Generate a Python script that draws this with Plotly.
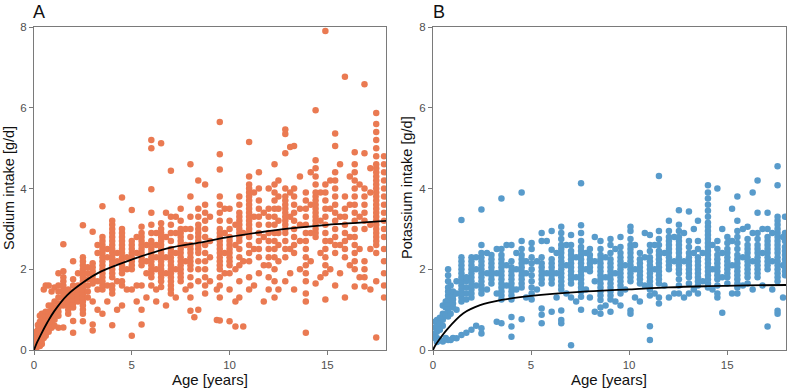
import plotly.graph_objects as go

# ---------------- Panel A: sodium intake (columns of observations by age) ----------------
na_ages = [0.05, 0.12, 0.2, 0.3, 0.4, 0.5, 0.6, 0.75, 0.9, 1.05, 1.25, 1.5, 1.75, 2.0, 2.25, 2.5,
           2.75, 3.0, 3.25, 3.5, 3.75, 4.0, 4.25, 4.5, 4.75, 5.0, 5.25, 5.5, 5.75, 6.0, 6.25, 6.5,
           6.75, 7.0, 7.25, 7.5, 7.75, 8.0, 8.2, 8.4, 8.75, 9.0, 9.35, 9.5, 9.75, 10.0, 10.3, 10.5,
           10.7, 11.0, 11.25, 11.5, 11.75, 12.0, 12.3, 12.5, 12.85, 13.1, 13.3, 13.6, 13.9, 14.15,
           14.4, 14.65, 14.9, 15.15, 15.4, 15.65, 15.9, 16.15, 16.4, 16.65, 16.9, 17.2, 17.5, 17.9]
na_vals = [
    [0.04, 0.08, 0.15, 0.22, 0.3],
    [0.05, 0.12, 0.2, 0.28, 0.35, 0.45],
    [0.1, 0.18, 0.25, 0.35, 0.42, 0.5, 0.62],
    [0.1, 0.2, 0.3, 0.4, 0.5, 0.6, 0.7, 0.85],
    [0.15, 0.25, 0.35, 0.45, 0.55, 0.65, 0.75, 0.9],
    [0.3, 0.4, 0.5, 0.6, 0.7, 0.8, 0.9, 1.5],
    [0.35, 0.45, 0.55, 0.65, 0.75, 0.85, 0.95, 1.6],
    [0.45, 0.55, 0.65, 0.75, 0.85, 0.95, 1.1, 1.6],
    [0.55, 0.7, 0.8, 0.9, 1.0, 1.1, 1.45],
    [0.6, 0.75, 0.85, 0.95, 1.05, 1.2, 1.55],
    [0.55, 0.85, 0.95, 1.05, 1.15, 1.3, 1.45, 1.6, 1.9],
    [0.56, 1.1, 1.2, 1.3, 1.4, 1.5, 1.6, 1.7, 1.8, 1.95, 2.62],
    [0.9, 1.0, 1.1, 1.2, 1.3, 1.4, 1.5],
    [0.43, 0.72, 1.05, 1.15, 1.25, 1.35, 1.45, 1.6, 1.75, 2.2],
    [1.2, 1.3, 1.4, 1.5, 1.6, 1.9],
    [0.71, 0.9, 1.0, 1.1, 1.2, 1.3, 1.4, 1.5, 1.6, 1.7, 1.8, 1.9, 2.0, 2.1, 2.2, 2.3, 3.09],
    [1.3, 1.45, 1.6, 1.75, 1.9, 2.05],
    [0.48, 0.63, 1.2, 1.65, 1.75, 1.85, 1.95, 2.05, 2.15, 2.93],
    [1.0, 1.5, 1.7, 2.4, 2.6],
    [0.9, 1.5, 1.6, 1.7, 1.8, 1.9, 2.0, 2.1, 2.2, 2.3, 2.4, 2.5, 2.6, 2.7, 2.8, 3.56],
    [1.2, 1.6, 2.3, 2.5],
    [0.61, 1.4, 1.5, 1.6, 1.8, 1.9, 2.0, 2.1, 2.2, 2.3, 2.4, 2.5, 2.6, 2.7, 2.8, 2.9, 3.0, 3.1, 3.2],
    [1.0, 1.7, 2.2, 2.4],
    [1.1, 1.6, 1.7, 1.9, 2.0, 2.1, 2.2, 2.3, 2.4, 2.5, 2.6, 2.7, 2.8, 2.9, 3.0, 3.78],
    [1.5, 2.0, 2.3],
    [0.35, 1.5, 2.0, 2.1, 2.2, 2.3, 2.4, 2.5, 2.6, 2.7, 3.47],
    [1.2, 1.6, 2.4, 2.8],
    [0.63, 1.0, 1.6, 2.1, 2.2, 2.3, 2.4, 2.5, 2.6, 2.7, 2.8, 2.9, 3.05],
    [1.3, 1.9, 2.2, 2.6],
    [1.6, 1.8, 1.9, 2.0, 2.1, 2.2, 2.3, 2.4, 2.5, 2.6, 2.7, 2.9, 3.1, 3.4, 3.98, 5.0, 5.2],
    [1.2, 1.5, 2.0, 2.3, 2.6, 2.9],
    [1.56, 1.7, 1.8, 1.9, 2.0, 2.1, 2.2, 2.3, 2.4, 2.5, 2.6, 2.7, 2.8, 2.9, 3.0, 3.14, 5.12],
    [1.1, 1.9, 2.3, 2.8, 3.4],
    [1.4, 1.5, 1.6, 1.7, 1.8, 1.9, 2.0, 2.1, 2.2, 2.3, 2.4, 2.5, 2.7, 2.9, 3.1, 3.3, 4.44],
    [1.3, 2.0, 2.4, 2.9, 3.3],
    [1.7, 1.8, 1.9, 2.0, 2.1, 2.2, 2.3, 2.4, 2.5, 2.6, 2.7, 2.8, 2.9, 3.0, 3.2, 3.5],
    [1.5, 2.2, 2.6, 3.0],
    [0.97, 1.3, 1.6, 1.8, 2.0, 2.1, 2.2, 2.3, 2.4, 2.5, 2.6, 2.8, 3.0, 3.3, 3.8, 4.6],
    [0.81],
    [1.0, 1.7, 2.0, 2.2, 2.4, 2.5, 2.6, 2.7, 2.8, 2.9, 3.0, 3.1, 3.3, 3.5, 4.2],
    [1.4, 1.6, 1.8, 2.0, 2.2, 2.4, 2.6, 2.8, 3.0, 3.2, 3.4, 3.6, 4.1],
    [1.7, 2.3, 2.7, 3.3],
    [0.74, 1.5],
    [0.73, 1.3, 1.6, 1.8, 2.0, 2.1, 2.2, 2.3, 2.4, 2.5, 2.6, 2.7, 2.8, 2.9, 3.0, 3.2, 3.4, 3.6, 3.8, 4.47, 4.85, 5.65],
    [1.9, 2.4, 2.9, 3.5],
    [0.71, 1.5, 1.9, 2.1, 2.2, 2.3, 2.4, 2.5, 2.6, 2.7, 2.8, 3.0, 3.2, 3.5],
    [0.58, 1.2, 2.0, 2.6, 3.1],
    [1.3, 1.7, 2.1, 2.3, 2.5, 2.7, 2.8, 2.9, 3.0, 3.1, 3.2, 3.3, 3.4, 3.6, 3.8],
    [0.58, 2.2, 2.9],
    [1.5, 1.8, 2.2, 2.4, 2.6, 2.8, 2.9, 3.0, 3.1, 3.2, 3.3, 3.4, 3.5, 3.6, 3.7, 3.8, 3.9, 4.0, 4.1, 4.3, 5.15],
    [1.6, 2.5, 3.3, 3.9],
    [1.9, 2.3, 2.5, 2.7, 2.9, 3.1, 3.3, 3.5, 3.7, 4.0, 4.4],
    [1.2, 2.1, 2.8, 3.4],
    [1.5, 1.8, 2.1, 2.3, 2.5, 2.7, 2.9, 3.1, 3.3, 3.5, 4.0],
    [1.3, 1.7, 2.0, 2.3, 2.5, 2.7, 2.9, 3.1, 3.3, 3.5, 3.7, 3.9, 4.1, 4.6],
    [1.5, 2.2, 2.6, 2.9, 3.2, 3.5, 3.8, 4.2],
    [1.7, 2.3, 2.5, 2.7, 2.9, 3.0, 3.1, 3.2, 3.3, 3.4, 3.5, 3.6, 3.7, 3.8, 4.0, 4.87, 5.35, 5.46],
    [1.9, 2.5, 3.3, 3.9, 5.03],
    [1.5, 2.4, 2.6, 2.8, 3.0, 3.2, 3.4, 3.6, 3.8, 4.0, 5.05],
    [2.0, 2.7, 3.1, 3.5, 4.3],
    [0.43, 1.2, 1.4, 1.7, 1.9, 2.1, 2.3, 2.5, 2.7, 2.9, 3.1, 3.3, 3.5, 3.7, 3.9],
    [2.2, 2.9, 3.6, 4.4],
    [1.65, 2.8, 2.9, 3.0, 3.1, 3.2, 3.3, 3.4, 3.5, 3.6, 3.7, 3.8, 3.9, 4.1, 4.3, 4.5, 4.7, 5.94],
    [1.8, 2.4, 3.2, 3.9],
    [1.25, 1.9, 2.1, 2.3, 2.5, 2.7, 2.9, 3.1, 3.3, 3.5, 3.7, 3.9, 4.1, 7.9],
    [2.0, 2.7, 3.5, 4.2],
    [1.6, 2.4, 2.6, 2.8, 3.0, 3.2, 3.4, 3.6, 3.8, 4.0, 4.2, 4.4, 5.05, 5.36],
    [1.9, 2.6, 3.3, 4.6],
    [1.3, 2.3, 2.5, 2.7, 2.9, 3.1, 3.3, 3.5, 3.8, 6.77],
    [2.1, 2.8, 3.6, 4.3],
    [1.57, 2.0, 2.2, 2.4, 2.6, 2.8, 3.0, 3.2, 3.4, 3.6, 3.8, 4.0, 4.2, 4.4, 4.6, 4.9],
    [1.8, 2.5, 3.3, 4.1],
    [1.57, 1.8, 2.0, 2.2, 3.0, 3.2, 3.4, 3.6, 3.8, 4.0, 4.87, 6.58],
    [1.5, 2.5, 3.1, 3.9, 4.5],
    [0.31, 1.7, 2.4, 2.6, 2.7, 2.8, 2.9, 3.0, 3.1, 3.2, 3.3, 3.4, 3.5, 3.6, 3.7, 3.8, 3.9, 4.0,
     4.1, 4.2, 4.3, 4.4, 4.5, 4.6, 4.8, 5.0, 5.2, 5.4, 5.6, 5.87],
    [1.3, 1.6, 1.9, 2.2, 2.5, 2.8, 3.0, 3.2, 3.4, 3.6, 3.8, 4.0, 4.2, 4.4, 4.6, 4.8],
]

# fitted curve A
na_fit_age = [0, 0.15, 0.34, 0.68, 1.02, 1.7, 2.56, 3.41, 5.0, 6.82, 8.69, 10.0, 11.5, 13.1, 15.0, 16.5, 18.0]
na_fit_val = [0, 0.18, 0.37, 0.68, 0.95, 1.36, 1.69, 1.94, 2.24, 2.52, 2.68, 2.8, 2.91, 3.01, 3.1, 3.15, 3.2]

# ---------------- Panel B: potassium intake ----------------
k_ages = [0.1, 0.2, 0.35, 0.5, 0.65, 0.77, 0.9, 1.02, 1.2, 1.45, 1.7, 1.96, 2.2, 2.47, 2.75, 2.98,
          3.25, 3.49, 3.75, 4.0, 4.25, 4.52, 4.75, 5.03, 5.3, 5.54, 5.8, 6.05, 6.3, 6.54, 6.8, 7.04,
          7.3, 7.55, 7.8, 8.0, 8.25, 8.54, 8.8, 9.05, 9.3, 9.56, 9.8, 10.07, 10.3, 10.55, 10.8,
          11.06, 11.3, 11.52, 11.8, 12.03, 12.3, 12.54, 12.8, 13.05, 13.3, 13.51, 13.75, 14.02,
          14.25, 14.5, 14.75, 15.01, 15.25, 15.52, 15.8, 16.04, 16.3, 16.55, 16.8, 17.06, 17.3,
          17.57, 17.85, 17.95]
k_vals = [
    [0.29, 0.4, 0.55, 0.7],
    [0.2, 0.3, 0.45, 0.6, 0.74],
    [0.25, 0.5, 0.65, 0.8],
    [0.21, 0.6, 0.75, 0.9, 1.1],
    [0.3, 0.85, 1.05, 1.2],
    [0.25, 0.83, 0.95, 1.05, 1.15, 1.25, 1.35, 1.45, 1.55, 1.7, 1.85, 2.0],
    [0.25, 0.9, 1.3, 1.6],
    [0.3, 1.05, 1.15, 1.25, 1.35, 1.45],
    [0.29, 1.0, 1.4, 1.7],
    [0.37, 1.2, 1.3, 1.4, 1.5, 1.6, 1.7, 1.8, 1.9, 2.0, 2.1, 2.2, 2.3, 3.22],
    [0.43, 1.25, 1.4, 1.55, 1.7, 1.8],
    [0.5, 1.3, 1.4, 1.5, 1.6, 1.7, 1.8, 1.9, 2.0, 2.1, 2.2, 2.3],
    [0.6, 1.6, 2.0, 2.3],
    [0.41, 0.54, 1.4, 1.5, 1.6, 1.7, 1.8, 1.9, 2.0, 2.1, 2.2, 2.3, 2.4, 2.6, 3.48],
    [1.5, 1.9, 2.4],
    [1.65, 1.75, 1.85, 1.95, 2.05, 2.15, 2.25, 2.35],
    [0.7, 1.4, 1.9, 2.5],
    [0.66, 1.25, 1.35, 1.45, 1.55, 1.65, 1.75, 1.85, 1.95, 2.05, 2.15, 2.25, 2.35, 2.5, 3.75],
    [1.6, 2.1, 2.6],
    [0.33, 0.58, 0.82, 1.25, 1.35, 1.45, 1.55, 1.65, 1.75, 1.85, 1.95, 2.05, 2.2, 2.6],
    [1.5, 2.0, 2.4],
    [0.76, 1.55, 1.65, 1.75, 1.85, 1.95, 2.05, 2.15, 2.25, 2.35, 2.5, 2.7, 3.9],
    [1.3, 1.9, 2.2],
    [1.25, 1.4, 1.55, 1.7, 1.85, 2.0, 2.15, 2.3, 2.5, 2.65],
    [1.5, 2.2],
    [0.66, 0.87, 1.03, 1.65, 1.75, 1.85, 1.95, 2.05, 2.15, 2.3, 2.7, 2.9],
    [1.9, 2.7],
    [0.95, 1.65, 1.75, 1.85, 1.95, 2.05, 2.15, 2.25, 2.48, 2.95],
    [1.3, 1.9, 2.4],
    [0.66, 0.74, 0.98, 1.5, 1.6, 1.7, 1.8, 1.9, 2.0, 2.1, 2.2, 2.3, 2.4, 2.5, 2.6, 2.75, 2.9, 3.05],
    [1.4, 2.1, 2.6],
    [0.12, 1.3, 1.65, 1.75, 1.85, 1.95, 2.05, 2.15, 2.25, 2.35, 2.45, 2.6, 2.85],
    [1.2, 1.8, 2.3],
    [1.0, 1.32, 1.45, 1.55, 1.65, 1.75, 1.85, 1.95, 2.05, 2.15, 2.25, 2.35, 2.45, 2.55, 2.7, 2.9, 3.09, 4.13],
    [1.5, 2.0, 2.4],
    [1.3, 1.95, 2.05, 2.15, 2.25, 2.35, 2.5],
    [0.95, 1.7, 2.2, 2.8],
    [0.9, 1.05, 1.24, 1.35, 1.45, 1.55, 1.65, 1.75, 1.85, 1.95, 2.05, 2.15, 2.25, 2.35, 2.5, 2.7],
    [1.1, 1.8, 2.3],
    [0.95, 1.25, 1.35, 1.45, 1.55, 1.65, 1.75, 1.85, 1.95, 2.05, 2.15, 2.25, 2.4, 2.6, 2.75],
    [1.2, 1.9, 2.5],
    [1.1, 1.4, 1.5, 1.6, 1.7, 1.8, 1.9, 2.0, 2.1, 2.2, 2.3, 2.4, 2.55, 2.8],
    [1.5, 2.1],
    [0.9, 0.98, 1.7, 1.8, 1.9, 2.0, 2.1, 2.2, 2.3, 2.4, 2.5, 2.6, 2.75, 2.95, 3.05],
    [1.3, 2.0, 2.6],
    [1.2, 1.65, 1.75, 1.85, 1.95, 2.05, 2.15, 2.25, 2.4],
    [1.6, 2.3, 2.9],
    [0.25, 0.59, 1.35, 1.5, 1.6, 1.7, 1.8, 1.9, 2.0, 2.1, 2.2, 2.3, 2.45, 2.6, 2.85],
    [1.4, 2.0, 2.6],
    [1.15, 1.3, 1.65, 1.75, 1.85, 1.95, 2.05, 2.15, 2.25, 2.35, 2.45, 2.6, 2.75, 2.95, 4.31],
    [1.6, 2.4],
    [1.3, 2.0, 2.1, 2.2, 2.3, 2.4, 2.5, 2.6, 2.7, 2.8, 2.95, 3.2],
    [1.4, 2.2, 2.8],
    [1.4, 1.6, 1.75, 1.9, 2.0, 2.1, 2.2, 2.3, 2.4, 2.5, 2.6, 2.7, 2.8, 2.95, 3.1, 3.46],
    [1.3, 2.2, 2.9],
    [1.4, 1.65, 1.8, 1.9, 2.0, 2.1, 2.2, 2.3, 2.4, 2.55, 2.7, 3.43],
    [1.5, 2.4, 3.0],
    [1.4, 1.6, 1.7, 1.8, 1.9, 2.0, 2.1, 2.2, 2.3, 2.5, 2.7, 3.2],
    [1.7, 2.4],
    [1.55, 1.65, 1.75, 1.85, 1.95, 2.05, 2.15, 2.25, 2.35, 2.45, 2.55, 2.65, 2.75, 2.85, 2.95,
     3.05, 3.15, 3.3, 3.45, 3.6, 3.75, 3.9, 4.08],
    [1.5, 2.0, 2.6],
    [1.3, 1.4, 1.6, 1.75, 1.85, 1.95, 2.05, 2.15, 2.25, 2.35, 2.5, 2.7, 4.0],
    [0.92, 1.8, 2.4, 3.0],
    [1.65, 1.8, 1.9, 2.0, 2.1, 2.2, 2.3, 2.4, 2.5, 2.65, 2.8],
    [1.4, 2.1, 2.7, 3.5],
    [1.4, 1.55, 1.65, 1.75, 1.85, 1.95, 2.05, 2.15, 2.25, 2.35, 2.5, 2.65, 2.8, 2.95, 3.2, 3.8],
    [1.6, 2.3, 3.0],
    [1.65, 1.8, 1.9, 2.0, 2.1, 2.2, 2.3, 2.4, 2.5, 2.6, 2.75, 3.05],
    [1.5, 2.2, 2.9, 3.9],
    [1.8, 1.9, 2.0, 2.1, 2.2, 2.3, 2.4, 2.5, 2.6, 2.75, 2.9, 3.4, 4.2],
    [1.6, 2.4, 3.0],
    [0.58, 2.0, 2.1, 2.2, 2.3, 2.4, 2.5, 2.6, 2.7, 2.8, 3.0, 3.4],
    [1.5, 2.2, 2.9],
    [0.9, 0.97, 1.7, 1.8, 1.9, 2.0, 2.1, 2.2, 2.3, 2.4, 2.5, 2.6, 2.7, 2.8, 2.9, 3.0, 3.1, 3.2,
     3.3, 4.08, 4.55],
    [1.3, 2.1, 2.8],
    [1.85, 1.95, 2.05, 2.15, 2.25, 2.35, 2.45, 2.55, 2.7, 2.9, 3.3],
]

# fitted curve B
k_fit_age = [0, 0.1, 0.25, 0.7, 1.55, 2.4, 3.5, 5.0, 7.5, 10.0, 12.0, 14.0, 16.0, 18.0]
k_fit_val = [0, 0.1, 0.21, 0.5, 0.91, 1.11, 1.24, 1.34, 1.44, 1.5, 1.55, 1.58, 1.6, 1.61]

x_ticks = [0, 5, 10, 15]
y_ticks = [0, 2, 4, 6, 8]


def flatten(ages, vals):
    xs, ys = [], []
    for a, col in zip(ages, vals):
        for v in col:
            xs.append(a)
            ys.append(v)
    return xs, ys


na_x, na_y = flatten(na_ages, na_vals)
k_x, k_y = flatten(k_ages, k_vals)

ORANGE = "#EA7A52"
BLUE = "#589BCB"
FONT = "Liberation Sans, Arial, sans-serif"
AXC = "#7a7a7a"

fig = go.Figure()
fig.add_trace(go.Scatter(x=na_x, y=na_y, mode="markers", xaxis="x", yaxis="y",
                         marker=dict(color=ORANGE, size=6.5, line=dict(width=0)), showlegend=False))
fig.add_trace(go.Scatter(x=na_fit_age, y=na_fit_val, mode="lines", xaxis="x", yaxis="y",
                         line=dict(color="black", width=1.8, shape="spline", smoothing=1.0),
                         showlegend=False))
fig.add_trace(go.Scatter(x=k_x, y=k_y, mode="markers", xaxis="x2", yaxis="y2",
                         marker=dict(color=BLUE, size=6.5, line=dict(width=0)), showlegend=False))
fig.add_trace(go.Scatter(x=k_fit_age, y=k_fit_val, mode="lines", xaxis="x2", yaxis="y2",
                         line=dict(color="black", width=1.8, shape="spline", smoothing=1.0),
                         showlegend=False))

W, H = 789, 389
ydom = [(H - 350) / H, (H - 27) / H]
TICKFONT = dict(family=FONT, size=11.5, color="#505050")


def xax(dom, anchor):
    return dict(domain=dom, anchor=anchor, range=[0, 18], tickvals=x_ticks, automargin=False,
                showline=True, mirror=True, linecolor=AXC, linewidth=1,
                ticks="outside", ticklen=4, tickcolor=AXC, showgrid=False, zeroline=False,
                tickfont=TICKFONT)


def yax(anchor):
    return dict(domain=ydom, anchor=anchor, range=[0, 8], tickvals=y_ticks, automargin=False,
                showline=True, mirror=True, linecolor=AXC, linewidth=1,
                ticks="outside", ticklen=4, tickcolor=AXC, showgrid=False, zeroline=False,
                tickfont=TICKFONT)


def label(text, x, y, size=14.5, angle=0):
    return dict(text=text, x=x / W, y=(H - y) / H, xref="paper", yref="paper",
                showarrow=False, xanchor="center", yanchor="middle", textangle=angle,
                font=dict(family=FONT, size=size, color="#111111"))


fig.update_layout(
    width=W, height=H,
    margin=dict(l=0, r=0, t=0, b=0),
    paper_bgcolor="white", plot_bgcolor="white",
    font=dict(family=FONT),
    xaxis=xax([34 / W, 386 / W], "y"),
    yaxis=yax("x"),
    xaxis2=xax([433 / W, 786 / W], "y2"),
    yaxis2=yax("x2"),
    annotations=[
        label("A", 39, 12, size=18),
        label("B", 439, 12, size=18),
        label("Age [years]", 210, 379, size=15),
        label("Age [years]", 609, 379, size=15),
        label("Sodium intake [g/d]", 9, 188, angle=-90),
        label("Potassium intake [g/d]", 407, 188, angle=-90),
    ],
)

fig.write_html("out.html", config={"displayModeBar": False},
               post_script="document.body.style.margin='0';document.body.style.overflow='hidden';")
